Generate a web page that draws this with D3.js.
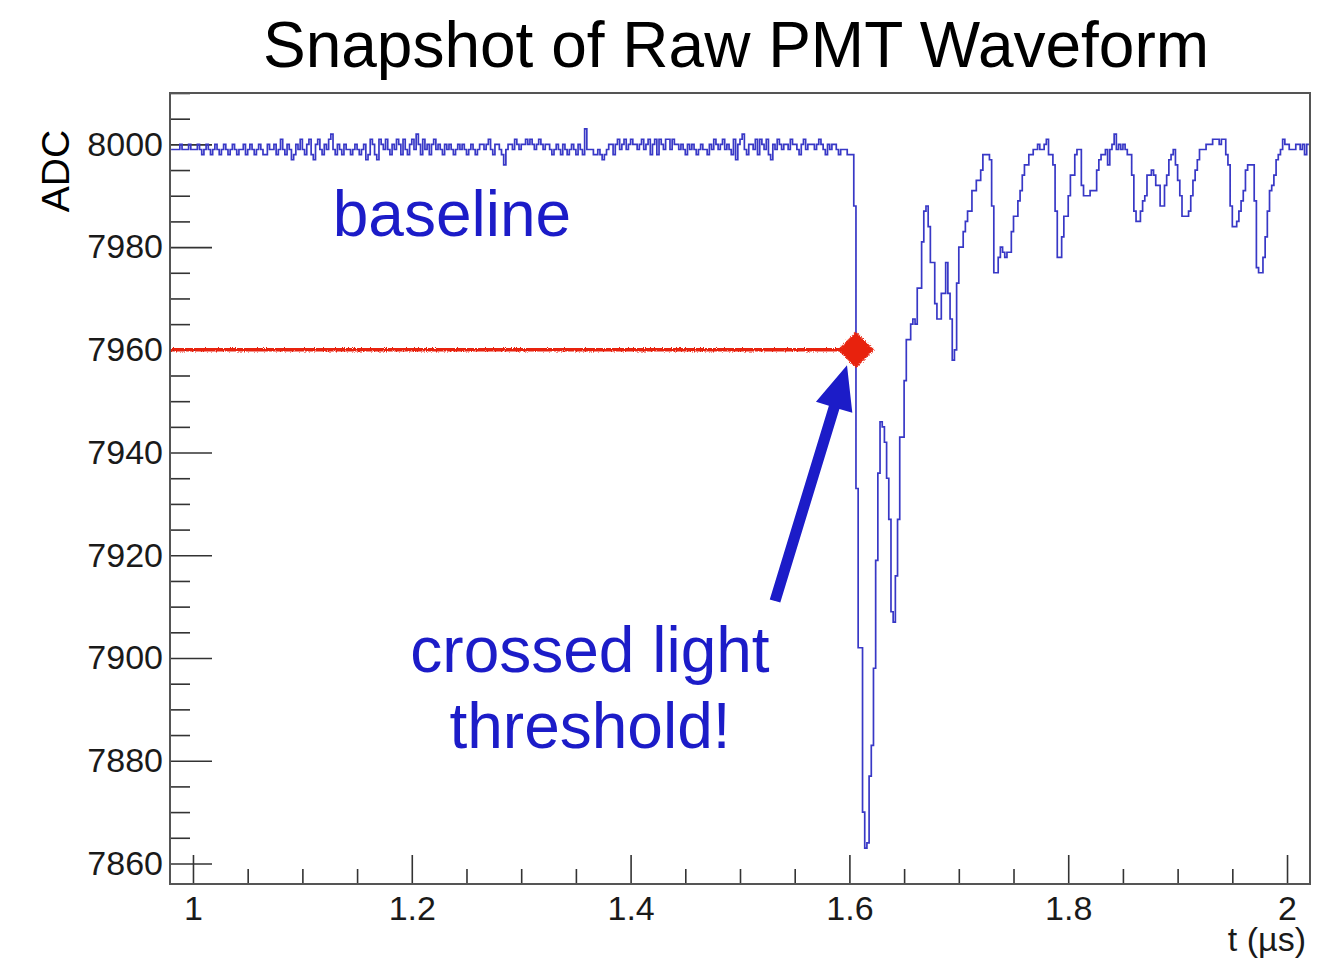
<!DOCTYPE html>
<html>
<head>
<meta charset="utf-8">
<script src="https://cdn.jsdelivr.net/npm/d3@7"></script>
<style>
  html, body { margin: 0; padding: 0; background: #fff; }
  svg { display: block; font-family: "Liberation Sans", Arial, Helvetica, sans-serif; }
</style>
</head>
<body>
<svg id="chart" width="1318" height="959"></svg>
<script>
// ---- text ----
const title = "Snapshot of Raw PMT Waveform";
const xLabel = "t (µs)";
const yLabel = "ADC";

// ---- axes ----
const xRange = [0.979, 2.021];
const yRange = [7856, 8010];
const xMajorTicks = [1, 1.2, 1.4, 1.6, 1.8, 2];
const xTickLabels = ["1", "1.2", "1.4", "1.6", "1.8", "2"];
const yMajorTicks = [7860, 7880, 7900, 7920, 7940, 7960, 7980, 8000];
const yTickLabels = ["7860", "7880", "7900", "7920", "7940", "7960", "7980", "8000"];

// ---- digitizer samples (2 ns per sample, first sample at 0.98 µs) ----
const tStart = 0.98;
const tStep = 0.002;
const preTrigger = [
  7999,7999,7999,7999,8000,7999,7999,7999,8000,7999,7999,7999,8000,7999,7998,7999,8000,7999,7998,7999,
  8000,7999,7998,7999,8000,7999,7998,7999,8000,7999,7998,7999,7999,8000,7998,7999,8000,7999,7998,7999,
  8000,7999,7998,7998,8000,7999,7999,8000,7998,7999,8001,7999,7998,8000,7999,7997,7998,8000,7999,8001,
  7999,7998,8000,8001,7998,7997,8000,8001,7999,7998,8000,7999,8001,8002,7999,7998,8000,7999,7998,8000,
  7999,7999,7998,7999,8000,7999,7998,7999,8000,7997,7998,8001,8000,7998,7997,8001,8000,7999,8001,7999,
  7998,8000,7999,8001,8000,7998,8001,7999,7998,8000,8001,7999,8002,8000,7998,8001,7999,8000,7998,8000,
  8001,7999,8000,7999,7998,8000,7999,8000,7999,7998,7999,8000,7999,8000,7999,7998,7999,8000,7999,7998,
  7999,8000,8000,7999,8000,8001,7999,7998,8000,8000,7999,7998,7996,7999,8000,8000,7999,8001,8000,7999,
  8000,8000,8001,8000,8001,8000,7999,8000,8001,8000,7999,8000,8000,7999,7998,7999,8000,7999,7998,8000,
  7999,7998,7999,8000,7999,7998,8000,7999,7998,8003,7999,7999,7999,7998,7998,7999,7998,7997,7998,7999,
  8000,8000,7998,8000,8001,7999,8000,8001,7999,8000,8001,8000,8000,7999,8000,8001,7999,8000,8001,7998,
  8000,8001,7998,8001,8000,7999,8001,8001,7999,8001,8000,8000,7999,8000,7999,7998,8000,7999,8000,7999,
  7998,7999,8000,7999,7999,7998,8000,7999,8001,8000,7999,8000,8001,7999,8000,7999,7998,8001,7997,8000,
  8001,8002,7999,7998,8000,8000,7999,8001,7998,8001,8000,7999,8001,7998,7997,8000,7999,8001,8000,7999,
  8000,8000,7999,8001,8000,8000,7999,7998,8000,8001,7999,8000,8000,8000,7999,8000,8001,8000,7999,7998,
  8000,7999,8000,8000,7999,7998,7999,7999
];
const pulse = [
  7999,7998,7998,7998,7988,7933,7902,7902,7870,7863,
  7864,7877,7883,7898,7919,7936,7946,7945,7942,7935,
  7927,7909,7907,7916,7927,7943,7943,7954,7962,7962,
  7965,7966,7965,7972,7972,7981,7987,7988,7984,7977,
  7977,7969,7966,7966,7971,7971,7977,7971,7966,7958,
  7960,7973,7980,7980,7983,7985,7987,7987,7991,7991,
  7993,7993,7995,7998,7998,7998,7997,7988,7975,7975,
  7978,7980,7979,7978,7979,7979,7983,7986,7986,7989,
  7991,7994,7996,7996,7998,7998,7999,7999,8000,7999,
  7999,8000,8001,7998,7998,7996,7987,7978,7978,7982,
  7986,7986,7990,7994,7994,7998,7999,7999,7992,7990,
  7990,7990,7991,7991,7991,7995,7997,7998,7998,7999,
  7996,7999,8000,8002,7999,8000,7999,8000,7999,7998,
  7998,7994,7987,7985,7985,7987,7989,7990,7994,7994,
  7995,7994,7992,7992,7988,7988,7992,7994,7997,7998,
  7999,7996,7993,7990,7986,7986,7986,7987,7990,7993,
  7995,7997,7999,7999,7999,8000,8000,8000,8001,8001,
  8001,8000,8001,8001,7998,7996,7988,7984,7984,7985,
  7987,7989,7991,7995,7996,7996,7996,7989,7976,7975,
  7975,7978,7982,7987,7991,7992,7994,7997,7998,7999,
  8001,8000,8000,7999,7999,7999,8000,8000,7999,8000,
  7998,8000
];

// ---- trigger ----
const threshold = 7960;      // ADC
const crossTime = 1.606;     // µs, first sample below threshold

// ---- annotations (data coordinates) ----
const baselineNote = { text: "baseline", t: 1.2367, v: 7982.2 };
const crossNote = { lines: ["crossed light", "threshold!"], t: 1.3629, v: [7897.3, 7882.5] };
const arrowNote = { tail: [1.532, 7911.1], tip: [1.5978, 7957.0] };

// ---- layout ----
const W = 1318, H = 959;
const frame = { left: 170, right: 1310, top: 93, bottom: 884 };
const tickFont = 34;
const waveColor = "#3838c6";
const noteColor = "#1c1cc8";
const trigColor = "#e8220f";

const svg = d3.select("#chart");
svg.append("rect").attr("width", W).attr("height", H).attr("fill", "#fff");

const x = d3.scaleLinear().domain(xRange).range([frame.left, frame.right]);
const y = d3.scaleLinear().domain(yRange).range([frame.bottom, frame.top]);

const defs = svg.append("defs");
defs.append("clipPath").attr("id", "plot-clip")
  .append("rect")
  .attr("x", frame.left).attr("y", frame.top)
  .attr("width", frame.right - frame.left).attr("height", frame.bottom - frame.top);

// speckled marker-pen texture for the trigger marks
const grain = defs.append("filter").attr("id", "grain")
  .attr("x", "-10%").attr("y", "-50%").attr("width", "120%").attr("height", "200%");
grain.append("feTurbulence").attr("type", "fractalNoise").attr("baseFrequency", 0.9)
  .attr("numOctaves", 1).attr("seed", 3).attr("result", "noise");
grain.append("feDisplacementMap").attr("in", "SourceGraphic").attr("in2", "noise")
  .attr("scale", 4).attr("xChannelSelector", "R").attr("yChannelSelector", "G");

// ---- title ----
svg.append("text")
  .attr("x", 736).attr("y", 67)
  .attr("text-anchor", "middle")
  .attr("font-size", 64)
  .attr("fill", "#000")
  .text(title);

// ---- axes ----
const xMinor = d3.range(0.95, 2.06, 0.05)
  .map(d => +d.toFixed(2))
  .filter(d => d >= xRange[0] && d <= xRange[1] && !xMajorTicks.some(m => Math.abs(m - d) < 1e-6));
const yMinor = d3.range(7855, 8011, 5)
  .filter(d => d >= yRange[0] && d <= yRange[1] && !yMajorTicks.includes(d));

function styleAxis(g) {
  g.attr("font-size", tickFont).attr("font-family", null);
  g.select(".domain").remove();
  g.selectAll(".tick line").attr("stroke", "#333").attr("stroke-width", 1.6);
  g.selectAll(".tick text").attr("fill", "#1a1a1a");
}

svg.append("g")
  .attr("transform", `translate(${frame.left},0)`)
  .call(d3.axisLeft(y).tickValues(yMinor).tickSize(-20).tickFormat(""))
  .call(styleAxis);
svg.append("g")
  .attr("transform", `translate(${frame.left},0)`)
  .call(d3.axisLeft(y).tickValues(yMajorTicks).tickSize(-42).tickPadding(7)
    .tickFormat((d, i) => yTickLabels[i]))
  .call(styleAxis);

svg.append("g")
  .attr("transform", `translate(0,${frame.bottom})`)
  .call(d3.axisBottom(x).tickValues(xMinor).tickSize(-15).tickFormat(""))
  .call(styleAxis);
svg.append("g")
  .attr("transform", `translate(0,${frame.bottom})`)
  .call(d3.axisBottom(x).tickValues(xMajorTicks).tickSize(-29).tickPadding(12)
    .tickFormat((d, i) => xTickLabels[i]))
  .call(styleAxis);

// axis titles
svg.append("text")
  .attr("x", frame.right - 4).attr("y", 951)
  .attr("text-anchor", "end")
  .attr("font-size", tickFont)
  .attr("fill", "#1a1a1a")
  .text(xLabel);
svg.append("text")
  .attr("transform", `translate(69,171) rotate(-90)`)
  .attr("text-anchor", "middle")
  .attr("font-size", 39)
  .attr("fill", "#000")
  .text(yLabel);

// ---- waveform ----
const adc = preTrigger.concat(pulse);
const pts = adc.map((v, i) => [tStart + i * tStep, v]);
pts.push([tStart + adc.length * tStep, adc[adc.length - 1]]);

const plot = svg.append("g").attr("clip-path", "url(#plot-clip)");
plot.append("path")
  .datum(pts)
  .attr("fill", "none")
  .attr("stroke", waveColor)
  .attr("stroke-width", 1.7)
  .attr("stroke-linejoin", "miter")
  .attr("d", d3.line().x(d => x(d[0])).y(d => y(d[1])).curve(d3.curveStepAfter));

// ---- trigger level and crossing marker ----
const trig = svg.append("g").attr("filter", "url(#grain)");
trig.append("line")
  .attr("x1", x(xRange[0])).attr("x2", x(crossTime))
  .attr("y1", y(threshold)).attr("y2", y(threshold))
  .attr("stroke", trigColor).attr("stroke-width", 3.4);
trig.append("path")
  .attr("transform", `translate(${x(crossTime)},${y(threshold)}) rotate(45)`)
  .attr("d", d3.symbol(d3.symbolSquare, 660)())
  .attr("fill", trigColor);

// ---- frame ----
svg.append("rect")
  .attr("x", frame.left).attr("y", frame.top)
  .attr("width", frame.right - frame.left).attr("height", frame.bottom - frame.top)
  .attr("fill", "none").attr("stroke", "#555").attr("stroke-width", 2);

// ---- annotations ----
svg.append("text")
  .attr("x", x(baselineNote.t)).attr("y", y(baselineNote.v))
  .attr("text-anchor", "middle")
  .attr("font-size", 64)
  .attr("fill", noteColor)
  .text(baselineNote.text);

crossNote.lines.forEach((line, i) => {
  svg.append("text")
    .attr("x", x(crossNote.t)).attr("y", y(crossNote.v[i]))
    .attr("text-anchor", "middle")
    .attr("font-size", 64)
    .attr("fill", noteColor)
    .text(line);
});

// thick arrow pointing at the crossing
{
  const tail = [x(arrowNote.tail[0]), y(arrowNote.tail[1])];
  const tip = [x(arrowNote.tip[0]), y(arrowNote.tip[1])];
  const dx = tip[0] - tail[0], dy = tip[1] - tail[1];
  const L = Math.hypot(dx, dy), ux = dx / L, uy = dy / L, nx = -uy, ny = ux;
  const headLen = 44, headHalf = 19, shaftHalf = 5.5;
  const bx = tip[0] - ux * headLen, by = tip[1] - uy * headLen;
  const poly = [
    [tail[0] + nx * shaftHalf, tail[1] + ny * shaftHalf],
    [bx + nx * shaftHalf, by + ny * shaftHalf],
    [bx + nx * headHalf, by + ny * headHalf],
    tip,
    [bx - nx * headHalf, by - ny * headHalf],
    [bx - nx * shaftHalf, by - ny * shaftHalf],
    [tail[0] - nx * shaftHalf, tail[1] - ny * shaftHalf]
  ];
  svg.append("polygon")
    .attr("points", poly.map(p => p.join(",")).join(" "))
    .attr("fill", noteColor);
}
</script>
</body>
</html>
